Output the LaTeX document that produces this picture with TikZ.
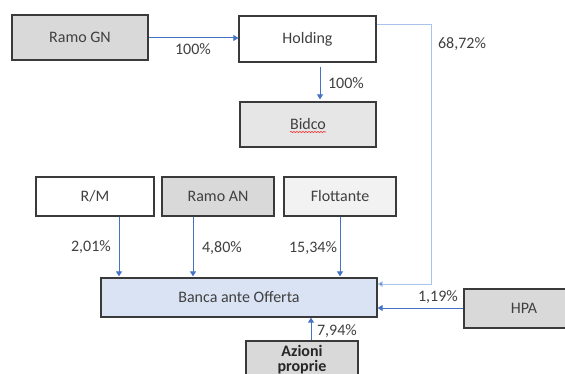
\documentclass[tikz,border=0pt]{standalone}
\usepackage{fontspec}
\setmainfont{Carlito}
\usetikzlibrary{arrows.meta,calc,decorations.pathmorphing}
\definecolor{txt}{HTML}{404040}
\definecolor{bord}{HTML}{3A3A3A}
\definecolor{arrblue}{HTML}{4472C4}
\definecolor{lightblue}{HTML}{A9C4EB}
\definecolor{gfill}{HTML}{D9D9D9}
\definecolor{bfill}{HTML}{E6E6E6}
\definecolor{ffill}{HTML}{F2F2F2}
\definecolor{bancafill}{HTML}{DAE3F3}
\tikzset{
  box/.style={draw=bord, line width=1.3pt, rectangle, inner sep=0pt, text=txt,
    font=\fontsize{16}{18}\selectfont, align=center},
  arr/.style={draw=arrblue, line width=1pt, -{Triangle[width=6pt,length=5pt]}},
  thinarr/.style={draw=lightblue, line width=1pt, -{Triangle[width=6pt,length=5pt,fill=arrblue]}},
  pct/.style={text=txt, font=\fontsize{16}{18}\selectfont, inner sep=0pt}
}
\begin{document}
\begin{tikzpicture}[x=1pt,y=-1pt]
\useasboundingbox (0,0) rectangle (565,374);
\clip (0,0) rectangle (565,374);
\fill[white] (0,0) rectangle (565,374);
% boxes
\node[box, fill=gfill, minimum width=136pt, minimum height=45pt] (rgn) at (80,37.5) {Ramo GN};
\node[box, fill=white, minimum width=137pt, minimum height=46pt] (hold) at (307.5,39) {Holding};
\node[box, fill=bfill, minimum width=136pt, minimum height=45pt] (bid) at (308,124.5) {Bidco};
\node[box, fill=white, minimum width=118pt, minimum height=39pt] (rm) at (95,196.5) {R/M};
\node[box, fill=gfill, minimum width=112pt, minimum height=39pt] (ran) at (218,196.5) {Ramo AN};
\node[box, fill=ffill, minimum width=112pt, minimum height=39pt] (flot) at (340,196.5) {Flottante};
\node[box, fill=bancafill, minimum width=276pt, minimum height=39pt] (banca) at (239,297.5) {Banca ante Offerta};
\node[box, fill=gfill, minimum width=120pt, minimum height=39pt] (hpa) at (524,308.5) {HPA};
\node[box, fill=gfill, minimum width=112pt, minimum height=46pt] (azi) at (302,364) {};
\node[text=black!85, font=\fontsize{16}{15}\bfseries\selectfont, inner sep=0pt, align=center] (azt) at (302,359.5) {Azioni\\proprie};
% spell-check underline
\draw[red!85, line width=0.6pt, decorate, decoration={snake, amplitude=0.6pt, segment length=3pt}] ($(bid.center)+(-18,7.5)$) -- ($(bid.center)+(18,7.5)$);
% coordinates
\coordinate (corner1) at (431,25);
\coordinate (corner2) at (431,284);
% connectors
\draw[arr] (rgn.east |- 0,38) -- (hold.west |- 0,38);
\draw[arr, shorten <=4pt, shorten >=2pt] ($(hold.south)+(12.5,0)$) -- ($(bid.north)+(12,0)$);
\draw[thinarr] (hold.east |- corner1) -- (corner1) -- (corner2) -- (banca.east |- corner2);
\draw[arr, shorten >=1pt] ($(rm.south)+(24,0)$) -- ($(banca.north)+(-120,0)$);
\draw[arr, shorten >=1pt] ($(ran.south)+(-25,0)$) -- ($(banca.north)+(-46,0)$);
\draw[arr, shorten >=1pt] (flot.south) -- ($(banca.north)+(101,0)$);
\draw[arr] (hpa.west |- 0,308) -- (banca.east |- 0,308);
\draw[arr] ($(azi.north)+(9,0)$) -- ($(banca.south)+(72,0)$);
% labels
\node[pct] (l1) at (193,49) {100\%};
\node[pct] (l2) at (346,83) {100\%};
\node[pct] (l3) at (462,44) {68,72\%};
\node[pct] (l4) at (91,247) {2,01\%};
\node[pct] (l5) at (222,248) {4,80\%};
\node[pct] (l6) at (313,248) {15,34\%};
\node[pct] (l7) at (438,297) {1,19\%};
\node[pct] (l8) at (337,331) {7,94\%};
\end{tikzpicture}
\end{document}
